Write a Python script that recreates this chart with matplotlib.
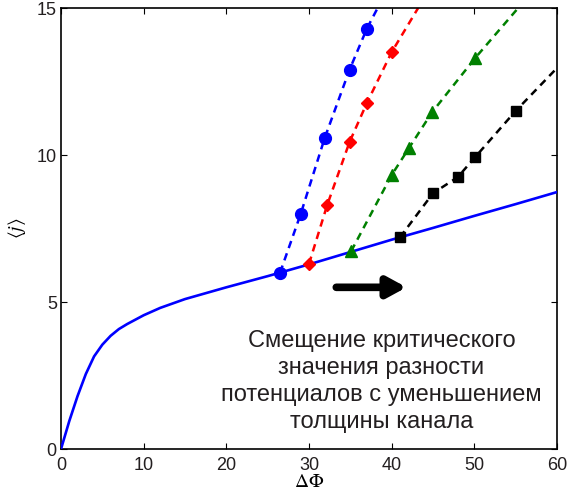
import numpy as np
import matplotlib
matplotlib.use('Agg')
import matplotlib.pyplot as plt

plt.rcParams['font.family'] = ['Liberation Sans', 'DejaVu Sans']
plt.rcParams['mathtext.fontset'] = 'stix'

# main curve <j>(dPhi)
phi = [0, 1, 2, 3, 4, 5, 6, 7, 8, 10, 12, 15, 20, 25, 30, 35, 40, 45, 50, 55, 60]
j_curve = [0, 0.95, 1.8, 2.55, 3.15, 3.55, 3.85, 4.08, 4.25, 4.55, 4.8, 5.1,
           5.5, 5.88, 6.28, 6.7, 7.12, 7.52, 7.93, 8.33, 8.74]

# branches (last point of each is where the dashed line leaves the box, no marker)
blue_x = [26.5, 29.0, 31.9, 34.9, 37.0, 38.3]
blue_y = [6.0, 8.0, 10.58, 12.9, 14.3, 15.0]
red_x = [30.0, 32.2, 34.9, 37.0, 40.0, 43.2]
red_y = [6.3, 8.3, 10.44, 11.77, 13.5, 15.0]
green_x = [35.1, 40.0, 42.1, 44.9, 50.1, 55.3]
green_y = [6.73, 9.32, 10.24, 11.46, 13.3, 15.0]
black_x = [41.0, 45.0, 48.0, 50.1, 55.0, 60.0]
black_y = [7.2, 8.7, 9.25, 9.93, 11.5, 12.96]

fig = plt.figure(figsize=(5.67, 4.95), dpi=100)
ax = fig.add_axes([0.1076, 0.0929, 0.8748, 0.8909])

ax.plot(phi, j_curve, color='#0000ff', lw=1.9, zorder=3)

branches = [(blue_x, blue_y, '#0000ff', 'o', 8.5),
            (red_x, red_y, '#ff0000', 'D', 6.5),
            (green_x, green_y, '#008000', '^', 8.5),
            (black_x, black_y, 'k', 's', 7)]
for bx, by, c, m, ms in branches:
    ax.plot(bx, by, '--', color=c, lw=1.8, dashes=(3, 2.2), zorder=2)
    ax.plot(bx[:-1], by[:-1], ls='none', marker=m, color=c, ms=ms, zorder=4)

ax.annotate('', xy=(41.8, 5.5), xytext=(33.3, 5.5),
            arrowprops=dict(arrowstyle='-|>,head_length=1.1,head_width=0.6',
                            color='k', lw=5.5, shrinkA=0, shrinkB=0))

ax.text(38.75, 2.3, 'Смещение критического\nзначения разности\nпотенциалов с уменьшением\nтолщины канала',
        ha='center', va='center', fontsize=17, color='#231f20', linespacing=1.3)

ax.set_xlim(0, 60)
ax.set_ylim(0, 15)
ax.set_xticks([0, 10, 20, 30, 40, 50, 60])
ax.set_yticks([0, 5, 10, 15])
ax.tick_params(direction='in', top=True, right=True, labelsize=13,
               labelcolor='#231f20', length=4.5, width=0.8)
ax.tick_params(axis='x', pad=6)
ax.tick_params(axis='y', pad=3)
for s in ax.spines.values():
    s.set_linewidth(1.2)

ax.set_xlabel(r'$\Delta\Phi$', fontsize=14, labelpad=0)
ax.set_ylabel(r'$\langle j\rangle$', fontsize=14, labelpad=6)

fig.savefig('out.png', dpi=100)
